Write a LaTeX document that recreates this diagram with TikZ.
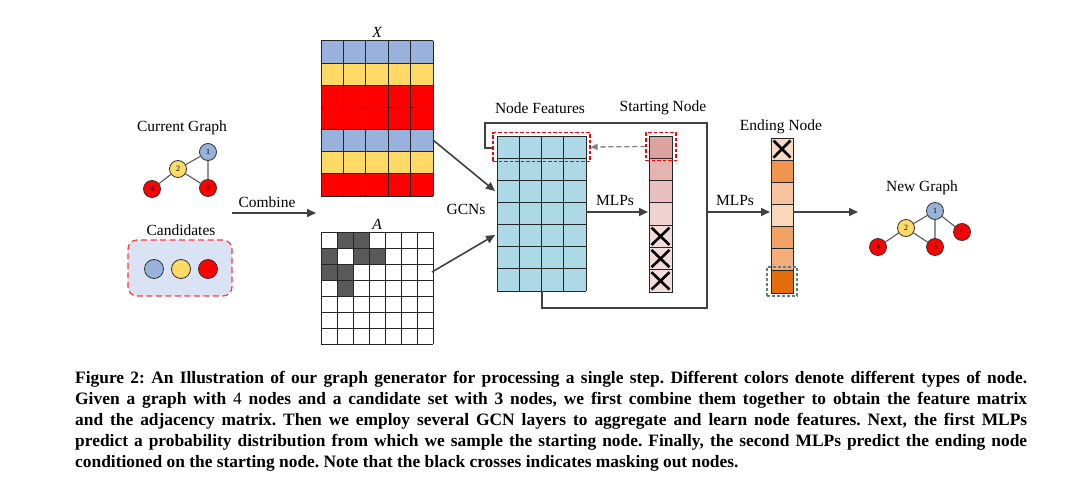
\documentclass[tikz,border=0pt]{standalone}
\usepackage{fontspec}
\setmainfont{Liberation Serif}
\usetikzlibrary{arrows.meta,calc}
\frenchspacing
\definecolor{xblue}{HTML}{98B2DD}
\definecolor{xyellow}{HTML}{FFD966}
\definecolor{xred}{HTML}{FF0000}
\definecolor{agray}{HTML}{595959}
\definecolor{nfblue}{HTML}{ADD8E6}
\definecolor{candbg}{HTML}{DAE3F3}
\definecolor{candred}{HTML}{FF3B3B}
\definecolor{arrowgray}{HTML}{404040}
\definecolor{s0}{HTML}{DBA3A0}
\definecolor{s1}{HTML}{E5B4B1}
\definecolor{s2}{HTML}{EAC0BE}
\definecolor{s3}{HTML}{F0D2D0}
\definecolor{s4}{HTML}{F2DCDB}
\definecolor{e0}{HTML}{FAD9C2}
\definecolor{e1}{HTML}{F0954F}
\definecolor{e2}{HTML}{F7C39E}
\definecolor{e3}{HTML}{FAD6BA}
\definecolor{e4}{HTML}{F2A164}
\definecolor{e5}{HTML}{F4AE7C}
\definecolor{e6}{HTML}{E46C0A}
\definecolor{tealgray}{HTML}{5F7F8F}
\begin{document}
\begin{tikzpicture}[x=1pt,y=-1pt,
  lbl/.style={font=\fontsize{15.5}{17}\selectfont, inner sep=0},
  gnode/.style={circle, draw=black!80, line width=0.8pt, minimum size=17pt, inner sep=0, font=\fontsize{8}{8}\selectfont},
  cnode/.style={circle, draw=black!80, line width=0.8pt, minimum size=19pt, inner sep=0},
  gedge/.style={draw=black!65, line width=1.1pt},
  arr/.style={draw=arrowgray, line width=1.6pt, -{Triangle[length=9pt,width=8pt]}},
  conn/.style={draw=arrowgray, line width=1.6pt},
  gridline/.style={draw=black!85, line width=1pt},
  mbox/.style={rectangle, draw=none, inner sep=0, outer sep=0},
  cross/.style={draw=black, line width=2.6pt},
  reddash/.style={draw=red, dash pattern=on 3.5pt off 2pt, line width=1.2pt}]
\useasboundingbox (0,0) rectangle (1080,487);

% ---------- current graph ----------
\node[lbl] (curlbl) at (182,128) {Current Graph};
\node[gnode, fill=xblue] (g1) at (208,152) {1};
\node[gnode, fill=xyellow] (g2) at (178,169) {2};
\node[gnode, fill=xred] (g3) at (208,188) {3};
\node[gnode, fill=xred] (g4) at (152,189) {4};
\draw[gedge] (g1) -- (g2) (g1) -- (g3) (g2) -- (g3) (g2) -- (g4);

% ---------- candidates ----------
\node[lbl] (candlbl) at (181,230) {Candidates};
\node[draw=candred, dash pattern=on 6pt off 3.5pt, line width=1.2pt, rounded corners=9pt, fill=candbg, minimum width=104pt, minimum height=56pt] (cand) at (180,268) {};
\node[cnode, fill=xblue] (c1) at (154,269) {};
\node[cnode, fill=xyellow] (c2) at (181,269) {};
\node[cnode, fill=xred] (c3) at (208,269) {};

% ---------- combine ----------
\coordinate (cs) at (232,213);
\coordinate (ce) at (316,213);
\draw[arr] (cs) -- (ce);
\node[lbl] (comblbl) at (267,202) {Combine};

% ---------- X matrix ----------
\node[mbox, minimum width=112pt, minimum height=155pt] (X) at (377,118.5) {};
\foreach \r/\c in {0/xblue,1/xyellow,2/xred,3/xred,4/xblue,5/xyellow,6/xred}
  \fill[\c] (321,{41+\r*22.143}) rectangle (433,{41+(\r+1)*22.143});
\foreach \i in {0,...,5} \draw[gridline] ({321+\i*22.4},41) -- ++(0,155);
\foreach \j in {0,...,7} \draw[gridline] (321,{41+\j*22.143}) -- ++(112,0);
\node[lbl, font=\fontsize{15.5}{17}\selectfont\itshape] (Xlbl) at (377,32) {X};

% ---------- A matrix ----------
\node[mbox, minimum width=112pt, minimum height=112pt] (A) at (377,288) {};
\fill[white] (321,232) rectangle (433,344);
\foreach \r/\c in {0/1,0/2,1/0,1/2,1/3,2/0,2/1,3/1}
  \fill[agray] ({321+\c*16},{232+\r*16}) rectangle ({321+(\c+1)*16},{232+(\r+1)*16});
\foreach \i in {0,...,7} \draw[gridline] ({321+\i*16},232) -- ++(0,112);
\foreach \j in {0,...,7} \draw[gridline] (321,{232+\j*16}) -- ++(112,0);
\node[lbl, font=\fontsize{15.5}{17}\selectfont\itshape] (Albl) at (377,224) {A};

% ---------- node features ----------
\node[mbox, minimum width=89pt, minimum height=155pt] (NF) at (541.5,213.5) {};
\fill[nfblue] (497,136) rectangle (586,291);
\foreach \i in {0,...,4} \draw[gridline] ({497+\i*22.25},136) -- ++(0,155);
\foreach \j in {0,...,7} \draw[gridline] (497,{136+\j*22.143}) -- ++(89,0);
\node[lbl] (nflbl) at (540,108) {Node Features};
\node[lbl] (gcnlbl) at (466,209) {GCNs};

% GCN arrows
\coordinate (xo) at (433,140);
\coordinate (xi) at (495,191);
\coordinate (ao) at (432,272);
\coordinate (ai) at (495,235);
\draw[arr] (xo) -- (xi);
\draw[arr] (ao) -- (ai);

% ---------- starting node ----------
\node[mbox, minimum width=23pt, minimum height=156pt] (SN) at (660.5,214) {};
\foreach \r/\c in {0/s0,1/s1,2/s2,3/s3,4/s4,5/s4,6/s4}
  \fill[\c] (649,{136+\r*22.286}) rectangle (672,{136+(\r+1)*22.286});
\draw[gridline] (649,136) rectangle (672,292);
\foreach \j in {1,...,6} \draw[gridline] (649,{136+\j*22.286}) -- ++(23,0);
\foreach \r in {4,5,6}
  \draw[cross] (651.5,{136+\r*22.286+2.5}) -- (669.5,{136+(\r+1)*22.286-2.5})
               (669.5,{136+\r*22.286+2.5}) -- (651.5,{136+(\r+1)*22.286-2.5});
\node[lbl] (snlbl) at (663,108) {Starting Node};

% ---------- ending node ----------
\node[mbox, minimum width=22pt, minimum height=155pt] (EN) at (782,215.5) {};
\foreach \r/\c in {0/e0,1/e1,2/e2,3/e3,4/e4,5/e5,6/e6}
  \fill[\c] (771,{138+\r*22.143}) rectangle (793,{138+(\r+1)*22.143});
\draw[gridline] (771,138) rectangle (793,293);
\foreach \j in {1,...,6} \draw[gridline] (771,{138+\j*22.143}) -- ++(22,0);
\draw[cross] (773.5,140.5) -- (790.5,157.6) (790.5,140.5) -- (773.5,157.6);
\node[draw=tealgray, dash pattern=on 3pt off 2pt, line width=1.1pt, minimum width=30pt, minimum height=29pt, inner sep=0] (ENsel) at (782,281.5) {};
\node[lbl] (enlbl) at (781,127) {Ending Node};

% ---------- loop and MLP arrows ----------
\coordinate (l1) at (542,291);
\coordinate (l2) at (542,308);
\coordinate (l3) at (707,308);
\coordinate (l4) at (707,123);
\coordinate (l5) at (485,123);
\coordinate (l6) at (485,148);
\node[reddash, minimum width=97pt, minimum height=29pt, inner sep=0] (NFsel) at (541.5,147) {};
\node[reddash, minimum width=30pt, minimum height=28pt, inner sep=0] (SNsel) at (661,146.5) {};
\draw[conn, line join=miter] (l1) -- (l2) -- (l3) -- (l4) -- (l5) -- (l6) -- (NFsel.west |- l6);

% dashed feedback arrow
\draw[draw=gray, dash pattern=on 5pt off 3pt, line width=1.3pt, -{Triangle[length=7pt,width=6pt]}] (SNsel.west) -- (NFsel.east);

\coordinate (m1s) at (586,212);
\coordinate (m1e) at (648,212);
\draw[arr] (m1s) -- (m1e);
\node[lbl] (mlp1) at (615,201) {MLPs};
\coordinate (m2s) at (707,212);
\coordinate (m2e) at (770,212);
\draw[arr] (m2s) -- (m2e);
\node[lbl] (mlp2) at (735,201) {MLPs};
\coordinate (os) at (793,212);
\coordinate (oe) at (858,212);
\draw[arr] (os) -- (oe);

% ---------- new graph ----------
\node[lbl] (nglbl) at (922,188) {New Graph};
\node[gnode, fill=xblue] (n1) at (935,211) {1};
\node[gnode, fill=xyellow] (n2) at (906,228) {2};
\node[gnode, fill=xred] (n3) at (935,247) {3};
\node[gnode, fill=xred] (n4) at (878,247) {4};
\node[gnode, fill=xred] (n5) at (962,232) {5};
\draw[gedge] (n1) -- (n2) (n1) -- (n3) (n2) -- (n3) (n2) -- (n4) (n1) -- (n5);

% ---------- caption ----------
\node[anchor=north west, inner sep=0, text width=952pt, align=justify,
      font=\fontsize{17.4}{21}\selectfont\bfseries\frenchspacing] (cap) at (75,371)
{Figure 2: An Illustration of our graph generator for processing a single step. Different colors denote different types of node.\linebreak
Given a graph with {\mdseries 4} nodes and a candidate set with 3 nodes, we first combine them together to obtain the feature matrix\linebreak
and the adjacency matrix. Then we employ several GCN layers to aggregate and learn node features. Next, the first MLPs\linebreak
predict a probability distribution from which we sample the starting node. Finally, the second MLPs predict the ending node\linebreak
conditioned on the starting node. Note that the black crosses indicates masking out nodes.};
\end{tikzpicture}
\end{document}
